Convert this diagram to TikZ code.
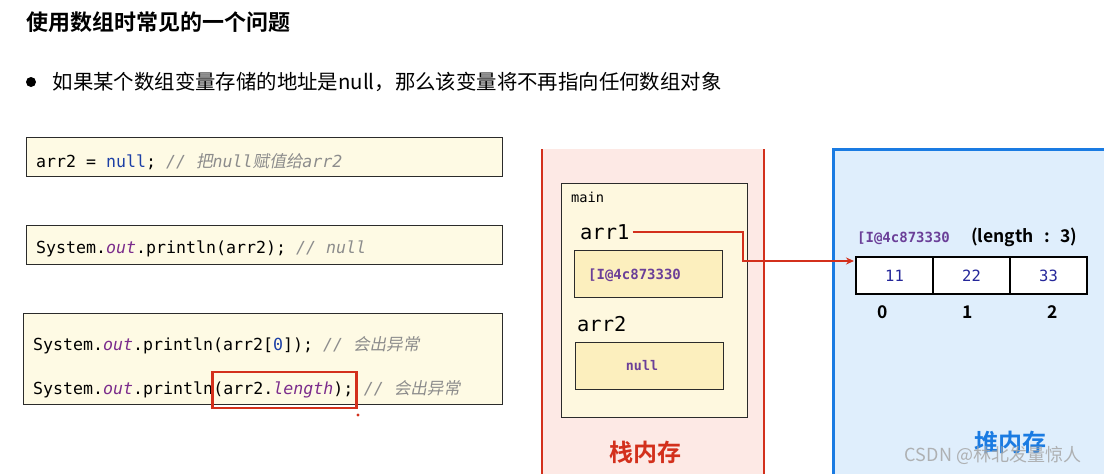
\documentclass[tikz,border=0pt]{standalone}
\usepackage{fontspec}
\setmainfont{Noto Sans CJK SC}[BoldFont={Noto Sans CJK SC Bold}]
\setmonofont{DejaVu Sans Mono}
\newfontfamily\cjkslant{Noto Sans CJK SC}[FakeSlant=0.2]
\usetikzlibrary{positioning,calc,arrows.meta}

\definecolor{codebg}{HTML}{FEFAE4}
\definecolor{codeline}{HTML}{2B2B2B}
\definecolor{kwblue}{HTML}{1C3FA6}
\definecolor{fieldpurple}{HTML}{7B2C8C}
\definecolor{cmtgray}{HTML}{8C8C8C}
\definecolor{stackbg}{HTML}{FDE9E5}
\definecolor{stackred}{HTML}{D3301C}
\definecolor{framebg}{HTML}{FEF8DF}
\definecolor{slotbg}{HTML}{FCEFBE}
\definecolor{addrpurple}{HTML}{6B3F98}
\definecolor{heapbg}{HTML}{DFEEFC}
\definecolor{heapblue}{HTML}{1A7BE2}
\definecolor{valblue}{HTML}{25279A}

\newcommand{\cmt}[1]{\textcolor{cmtgray}{\itshape #1}}
\newcommand{\zh}[1]{{\cjkslant #1}}

\begin{document}
\begin{tikzpicture}[x=1pt,y=-1pt,
    codebox/.style={draw=codeline, fill=codebg, line width=1.3pt, minimum width=476pt, anchor=north west},
    code/.style={font=\fontsize{16.6}{20}\selectfont\ttfamily, inner sep=0pt, anchor=base west},
    varname/.style={font=\fontsize{20.4}{24}\selectfont\ttfamily, inner sep=0pt, anchor=base west},
    addr/.style={font=\fontsize{14}{16}\selectfont\ttfamily\bfseries, text=addrpurple, inner sep=0pt},
    slot/.style={draw=codeline, fill=slotbg, line width=1.2pt, minimum width=148pt, minimum height=47pt, anchor=north west},
    cell/.style={draw, fill=white, line width=2.5pt, minimum width=77pt, minimum height=37pt, outer sep=0pt, inner sep=0pt, text=valblue, font=\fontsize{15.5}{18}\selectfont\ttfamily},
    idx/.style={font=\fontsize{17.5}{20}\selectfont\bfseries},
    memtitle/.style={font=\fontsize{24}{28}\selectfont\bfseries},
    ptr/.style={draw=stackred, line width=2pt, -{Stealth[length=8pt,width=7pt]}}]
    \path[use as bounding box, clip] (0,0) rectangle (1104,474);
    \fill[white] (0,0) rectangle (1104,474);

    \node[anchor=west, font=\fontsize{22}{26}\selectfont\bfseries] (title) at (23,22) {使用数组时常见的一个问题};
    \node[circle, fill, inner sep=0pt, minimum size=10pt] (dot) at (31,82) {};
    \node[right=13pt of dot, font=\fontsize{20.4}{24}\selectfont] (point) {如果某个数组变量存储的地址是null，那么该变量将不再指向任何数组对象};

    \node[codebox, minimum height=39pt] (boxA) at (26,137) {};
    \node[codebox, minimum height=39pt] (boxB) at (26,225) {};
    \node[codebox, minimum height=91pt, minimum width=479pt] (boxC) at (23,313) {};
    \node[code] (lineA) at (36,167) {arr2 = \textcolor{kwblue}{null}; \cmt{// \zh{把}null\zh{赋值给}arr2}};
    \node[code] (lineB) at (36,253) {System.\textcolor{fieldpurple}{\itshape out}.println(arr2); \cmt{// null}};
    \node[code] (lineC) at (33,350) {System.\textcolor{fieldpurple}{\itshape out}.println(arr2[\textcolor{kwblue}{0}]); \cmt{// \zh{会出异常}}};
    \node[code] (lineD) at (33,394) {System.\textcolor{fieldpurple}{\itshape out}.println};
    \node[code] (lineDarg) at (lineD.base east) {(arr2.\textcolor{fieldpurple}{\itshape length});};
    \node[code] (lineDcmt) at (lineDarg.base east) {\ \cmt{// \zh{会出异常}}};
    \draw[stackred, line width=2.8pt] ($(lineDarg.base west)+(-1,-22)$) rectangle ($(lineDarg.base east)+(3,14)$);
    \fill[stackred] (358,415) circle (1.6);

    \fill[stackbg] (542,149) rectangle (764,474);
    \draw[stackred, line width=2.5pt] (542,149) -- (542,474);
    \draw[stackred, line width=2.5pt] (764,149) -- (764,474);
    \node[draw=codeline, fill=framebg, line width=1.2pt, minimum width=186pt, minimum height=234pt, anchor=north west] (mainfr) at (561,183) {};
    \node[font=\fontsize{13.7}{16}\selectfont\ttfamily, inner sep=0pt, anchor=base west] (mainlbl) at (571,202) {main};
    \node[varname] (arr1lbl) at (580,239) {arr1};
    \node[slot] (slot1) at (574,250) {};
    \node[addr, anchor=base west] (addr1) at (588,279) {[I@4c873330};
    \node[varname] (arr2lbl) at (577,331) {arr2};
    \node[slot] (slot2) at (575,342) {};
    \node[addr, font=\fontsize{13.3}{16}\selectfont\ttfamily\bfseries] (nullval) at (642,366) {null};
    \node[memtitle, text=stackred] (stacktitle) at (645,452) {栈内存};

    \filldraw[fill=heapbg, draw=heapblue, line width=3pt] (833,149) rectangle (1130,500);
    \node[addr, anchor=base west] (addr2) at (857,242) {[I@4c873330};
    \node[font=\fontsize{17.5}{20}\selectfont\bfseries, inner sep=0pt, anchor=base west] (lenlbl) at (971,242) {(length\kern0.6em:\kern0.6em3)};
    \node[cell, anchor=north west] (cell0) at (856,257) {11};
    \node[cell, right=0pt of cell0] (cell1) {22};
    \node[cell, right=0pt of cell1] (cell2) {33};
    \node[idx] (idx0) at (883,312) {0};
    \node[idx] (idx1) at (968,312) {1};
    \node[idx] (idx2) at (1053,312) {2};
    \node[memtitle, text=heapblue] (heaptitle) at (1010,442) {堆内存};

    \coordinate (turn) at (743,245);
    \draw[ptr] ([xshift=3pt]arr1lbl.east) -| (turn) |- ([xshift=-2pt,yshift=-4pt]cell0.north west);

    \node[font=\fontsize{18}{20}\selectfont, text=gray!70, opacity=0.85] (mark) at (993,455) {CSDN @林北发量惊人};
\end{tikzpicture}
\end{document}
